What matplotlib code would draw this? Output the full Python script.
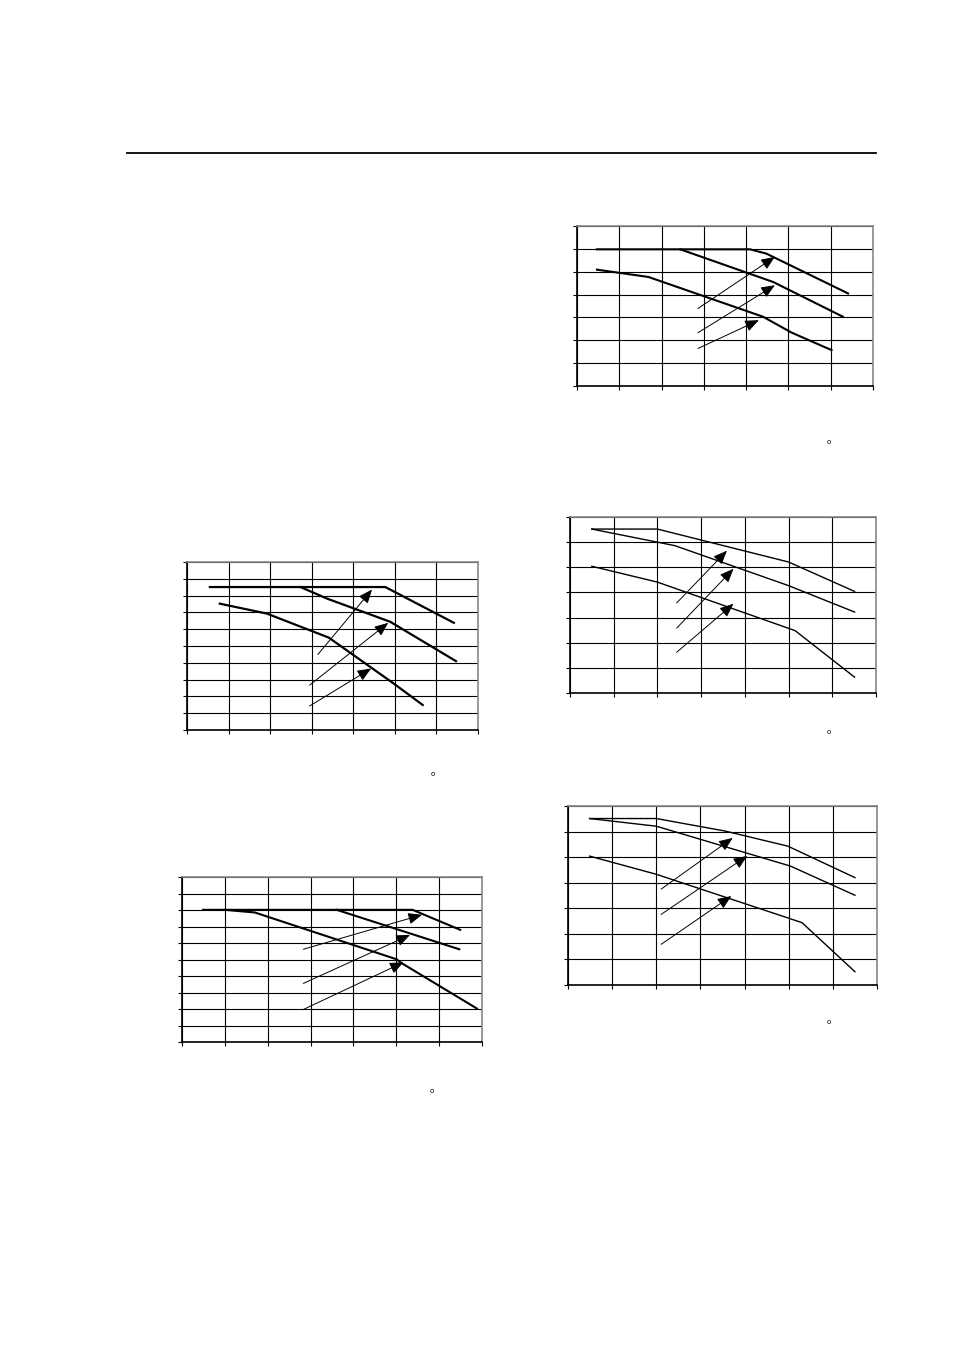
import matplotlib
matplotlib.use("Agg")
import matplotlib.pyplot as plt
from matplotlib.lines import Line2D

W, H = 954, 1350

# chart 1 (left, upper): 7 x 10 grid
c1_xa = [0.55, 4.77, 6.42]
c1_ya = [8.51, 8.51, 6.38]
c1_xb = [2.73, 3.37, 4.89, 6.47]
c1_yb = [8.51, 7.82, 6.44, 4.10]
c1_xc = [0.79, 1.92, 3.41, 4.97, 5.67]
c1_yc = [7.52, 6.93, 5.50, 2.77, 1.49]
c1_arrows = [((3.15, 4.50), (4.45, 8.36)),
             ((2.95, 2.67), (4.84, 6.38)),
             ((2.95, 1.43), (4.43, 3.66))]

# chart 2 (left, lower): 7 x 10 grid
c2_xa = [0.49, 5.38, 6.49]
c2_ya = [8.01, 8.01, 6.80]
c2_xb = [3.61, 6.47]
c2_yb = [8.01, 5.62]
c2_xc = [1.00, 1.70, 5.01, 5.13, 6.88]
c2_yc = [8.01, 7.85, 5.01, 4.77, 2.03]
c2_arrows = [((2.83, 5.62), (5.60, 7.71)),
             ((2.83, 3.55), (5.32, 6.49)),
             ((2.83, 1.97), (5.17, 4.83))]

# chart 3 (right, top): 7 x 7 grid
c3_xa = [0.47, 4.09, 4.48, 6.41]
c3_ya = [5.98, 5.98, 5.79, 4.05]
c3_xb = [2.44, 4.01, 4.64, 6.29]
c3_yb = [5.98, 4.96, 4.55, 3.03]
c3_xc = [0.47, 1.69, 4.40, 5.07, 6.02]
c3_yc = [5.09, 4.77, 3.03, 2.34, 1.57]
c3_arrows = [((2.86, 3.39), (4.68, 5.65)),
             ((2.86, 2.33), (4.68, 4.41)),
             ((2.86, 1.64), (4.30, 2.88))]

# chart 4 (right, middle): 7 x 7 grid
c4_xa = [0.50, 2.00, 5.00, 6.51]
c4_ya = [6.52, 6.52, 5.21, 4.04]
c4_xb = [0.50, 2.40, 5.00, 6.51]
c4_yb = [6.52, 5.86, 4.27, 3.22]
c4_xc = [0.50, 2.00, 5.15, 6.51]
c4_yc = [5.04, 4.41, 2.48, 0.63]
c4_arrows = [((2.44, 3.58), (3.59, 5.66)),
             ((2.44, 2.58), (3.74, 4.94)),
             ((2.44, 1.62), (3.74, 3.55))]

# chart 5 (right, bottom): 7 x 7 grid
c5_xa = [0.49, 2.00, 3.56, 4.98, 6.50]
c5_ya = [6.51, 6.51, 6.02, 5.43, 4.20]
c5_xb = [0.49, 2.00, 5.04, 6.50]
c5_yb = [6.51, 6.21, 4.65, 3.51]
c5_xc = [0.49, 2.00, 5.30, 6.50]
c5_yc = [5.04, 4.33, 2.44, 0.52]
c5_arrows = [((2.11, 3.75), (3.73, 5.75)),
             ((2.11, 2.76), (4.06, 5.05)),
             ((2.11, 1.59), (3.70, 3.48))]

fig = plt.figure(figsize=(W / 100, H / 100), dpi=100)
fig.patch.set_facecolor("white")

# header rule
fig.add_artist(Line2D([127 / W, 876 / W], [1 - 153 / H, 1 - 153 / H],
                      color="black", lw=1.3))


def make_chart(box, nrows, curves, arrows, lw, deg_xy):
    x0, y0, x1, y1 = box
    ax = fig.add_axes([x0 / W, 1 - y1 / H, (x1 - x0) / W, (y1 - y0) / H])
    ax.set_xlim(0, 7)
    ax.set_ylim(0, nrows)
    ax.set_xticks(range(8))
    ax.set_yticks(range(nrows + 1))
    ax.set_xticklabels([])
    ax.set_yticklabels([])
    ax.tick_params(direction="out", length=3, width=0.8, color="black")
    ax.grid(True, color="black", lw=0.8)
    ax.set_axisbelow(True)
    for s in ("top", "right"):
        ax.spines[s].set_color("#888888")
        ax.spines[s].set_linewidth(1.2)
    for s in ("left", "bottom"):
        ax.spines[s].set_color("black")
        ax.spines[s].set_linewidth(1.2)
    for xs, ys in curves:
        ax.plot(xs, ys, color="black", lw=lw, solid_joinstyle="miter")
    for (sx, sy), (ex, ey) in arrows:
        ax.annotate("", xy=(ex, ey), xytext=(sx, sy),
                    arrowprops=dict(arrowstyle="-|>,head_length=0.6,head_width=0.25",
                                    color="black", lw=0.7,
                                    mutation_scale=14, shrinkA=0, shrinkB=0))
    fig.text(deg_xy[0] / W, 1 - deg_xy[1] / H, "o", fontsize=5,
             ha="center", va="center")
    return ax


make_chart((187, 562, 478, 730), 10,
           [(c1_xa, c1_ya), (c1_xb, c1_yb), (c1_xc, c1_yc)],
           c1_arrows, 1.6, (433, 774))
make_chart((182, 877, 482, 1042), 10,
           [(c2_xa, c2_ya), (c2_xb, c2_yb), (c2_xc, c2_yc)],
           c2_arrows, 1.5, (432, 1091))
make_chart((577, 226, 873, 386), 7,
           [(c3_xa, c3_ya), (c3_xb, c3_yb), (c3_xc, c3_yc)],
           c3_arrows, 1.5, (829, 442))
make_chart((570, 517, 876, 693), 7,
           [(c4_xa, c4_ya), (c4_xb, c4_yb), (c4_xc, c4_yc)],
           c4_arrows, 1.0, (829, 732))
make_chart((568, 806, 877, 985), 7,
           [(c5_xa, c5_ya), (c5_xb, c5_yb), (c5_xc, c5_yc)],
           c5_arrows, 1.0, (829, 1022))

fig.savefig("out.png", dpi=100, facecolor="white")
